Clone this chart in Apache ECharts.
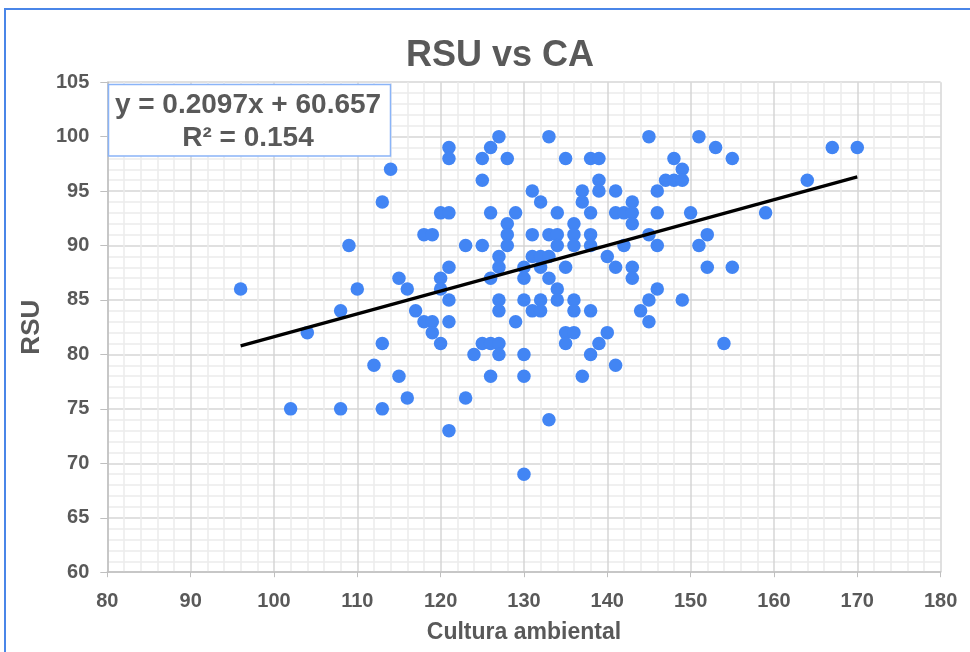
<!DOCTYPE html>
<html>
<head>
<meta charset="utf-8">
<script src="https://cdn.jsdelivr.net/npm/echarts@6/dist/echarts.min.js"></script>
<style>
html,body{margin:0;padding:0;background:#fff;}
#chart{width:970px;height:652px;}
</style>
</head>
<body>
<div id="chart"></div>
<script>
// Cultura ambiental (x) values
var caValues = [
96,102,104,108,108,109,110,112,113,113,113,114,115,115,116,116,117,118,118,119,
119,119,120,120,120,120,121,121,121,121,121,121,121,123,123,124,125,125,125,125,
126,126,126,126,126,127,127,127,127,127,127,127,128,128,128,128,129,129,130,130,
130,130,130,130,131,131,131,131,132,132,132,132,132,133,133,133,133,133,134,134,
134,134,134,135,135,135,135,136,136,136,136,136,136,137,137,137,138,138,138,138,
138,138,139,139,139,139,140,140,141,141,141,141,142,142,143,143,143,143,143,144,
145,145,145,145,146,146,146,146,147,148,148,149,149,149,150,151,151,152,152,153,
154,155,155,159,164,167,170
];
// RSU (y) values
var rsuValues = [
86,75,82,84,75,90,86,79,94,81,75,97,87,78,86,76,84,83,91,91,
83,82,93,87,86,81,99,98,93,88,85,83,73,90,76,80,98,96,90,81,
99,93,87,81,78,100,89,88,85,84,81,80,98,92,91,90,93,83,88,87,
85,80,78,69,95,91,89,84,94,89,88,85,84,100,91,89,87,74,93,91,
90,86,85,98,88,82,81,92,91,90,85,84,82,95,94,78,98,93,91,90,
84,80,98,96,95,81,89,82,95,93,88,79,93,90,94,93,92,88,87,84,
100,91,85,83,95,93,90,86,96,98,96,97,96,85,93,100,90,91,88,99,
81,98,88,93,96,99,99
];
// Trend line (from the chart's equation label)
var trendSlope = 0.2097;
var trendIntercept = 60.657;
var rSquared = 0.154;
var titleText = 'RSU vs CA';
var xName = 'Cultura ambiental';
var yName = 'RSU';

var points = caValues.map(function (x, i) { return [x, rsuValues[i]]; });
var xMin = Math.min.apply(null, caValues);
var xMax = Math.max.apply(null, caValues);
var trendData = [
  [xMin, trendSlope * xMin + trendIntercept],
  [xMax, trendSlope * xMax + trendIntercept]
];
var eqLine1 = 'y = ' + trendSlope.toFixed(4) + 'x + ' + trendIntercept.toFixed(3);
var eqLine2 = 'R\u00B2 = ' + rSquared.toFixed(3);

var FONT = '"Liberation Sans", Arial, sans-serif';
var GRAY = '#595959';

var chart = echarts.init(document.getElementById('chart'), null, {renderer: 'canvas'});
chart.setOption({
  animation: false,
  backgroundColor: '#ffffff',
  title: {
    text: titleText,
    left: 495, top: 33, textAlign: 'center',
    textStyle: {fontFamily: FONT, fontSize: 36, fontWeight: 'bold', color: GRAY}
  },
  grid: {left: 107.3, right: 29.4, top: 82.2, bottom: 79.8, containLabel: false},
  xAxis: {
    type: 'value', min: 80, max: 180, interval: 10,
    name: xName, nameLocation: 'middle', nameGap: 49,
    nameTextStyle: {fontFamily: FONT, fontSize: 23, fontWeight: 'bold', color: GRAY},
    axisLine: {show: true, lineStyle: {color: '#bfbfbf', width: 1.5}},
    axisTick: {show: true, length: 5, lineStyle: {color: '#bfbfbf'}},
    axisLabel: {fontFamily: FONT, fontSize: 20, fontWeight: 'bold', color: GRAY, margin: 19},
    splitLine: {show: true, lineStyle: {color: '#d6d6d6', width: 1.5}},
    minorTick: {show: false, splitNumber: 5},
    minorSplitLine: {show: true, lineStyle: {color: '#ebebeb', width: 1.5}}
  },
  yAxis: {
    type: 'value', min: 60, max: 105, interval: 5,
    name: yName, nameLocation: 'middle', nameGap: 59, nameRotate: 90,
    nameTextStyle: {fontFamily: FONT, fontSize: 26, fontWeight: 'bold', color: GRAY},
    axisLine: {show: true, lineStyle: {color: '#bfbfbf', width: 1.5}},
    axisTick: {show: true, length: 7, lineStyle: {color: '#bfbfbf'}},
    axisLabel: {fontFamily: FONT, fontSize: 20, fontWeight: 'bold', color: GRAY, margin: 18},
    splitLine: {show: true, lineStyle: {color: '#d6d6d6', width: 1.5}},
    minorTick: {show: false, splitNumber: 5},
    minorSplitLine: {show: true, lineStyle: {color: '#ebebeb', width: 1.5}}
  },
  series: [
    {
      type: 'scatter',
      data: points,
      symbol: 'circle',
      symbolSize: 13.5,
      itemStyle: {color: '#4285f4', opacity: 1},
      z: 2
    },
    {
      type: 'line',
      data: trendData,
      symbol: 'none',
      lineStyle: {color: '#000000', width: 3.2},
      z: 3
    }
  ],
  graphic: [
    {
      type: 'rect', silent: true, z: 0,
      shape: {x: 5, y: 9, width: 1000, height: 700},
      style: {fill: 'none', stroke: '#4a86e8', lineWidth: 2}
    },
    {
      type: 'rect', silent: true, z: 100,
      shape: {x: 108.5, y: 84.5, width: 282, height: 71.5},
      style: {fill: '#ffffff', stroke: '#8ab4f8', lineWidth: 1.5}
    },
    {
      type: 'text', silent: true, z: 101,
      x: 248, y: 105,
      style: {text: eqLine1, fontFamily: FONT, fontSize: 28, fontWeight: 'bold', fill: GRAY,
              textAlign: 'center', textVerticalAlign: 'middle'}
    },
    {
      type: 'text', silent: true, z: 101,
      x: 248, y: 138,
      style: {text: eqLine2, fontFamily: FONT, fontSize: 28, fontWeight: 'bold', fill: GRAY,
              textAlign: 'center', textVerticalAlign: 'middle'}
    }
  ]
});
</script>
</body>
</html>
